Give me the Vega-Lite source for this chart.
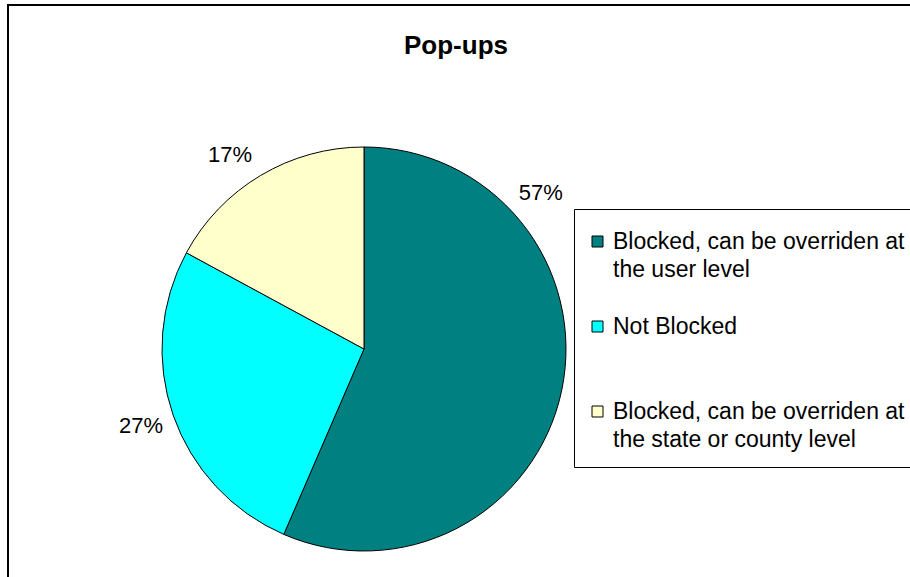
{
  "$schema": "https://vega.github.io/schema/vega-lite/v6.json",
  "width": 904,
  "height": 575,
  "autosize": "none",
  "padding": {"left": 8, "top": 5, "right": 0, "bottom": 0},
  "background": "white",
  "view": {"stroke": "black", "strokeWidth": 2, "fill": "white"},
  "config": {
    "view": {"stroke": "black", "strokeWidth": 2},
    "font": "Liberation Sans"
  },
  "title": {
    "text": "Pop-ups",
    "font": "Liberation Sans",
    "fontSize": 26,
    "fontWeight": "bold",
    "color": "black",
    "anchor": "middle",
    "dx": -4,
    "offset": -54
  },
  "data": {
    "values": [
      {"category": "Blocked, can be overriden at the user level", "value": 56.5, "order": 1, "label": "57%"},
      {"category": "Not Blocked", "value": 26.4, "order": 2, "label": "27%"},
      {"category": "Blocked, can be overriden at the state or county level", "value": 17.1, "order": 3, "label": "17%"}
    ]
  },
  "encoding": {
    "theta": {"field": "value", "type": "quantitative", "stack": true},
    "order": {"field": "order", "type": "quantitative"}
  },
  "layer": [
    {
      "mark": {"type": "arc", "outerRadius": 202, "x": 356, "y": 344, "stroke": "black", "strokeWidth": 1},
      "encoding": {
        "color": {
          "field": "category",
          "type": "nominal",
          "scale": {
            "domain": [
              "Blocked, can be overriden at the user level",
              "Not Blocked",
              "Blocked, can be overriden at the state or county level"
            ],
            "range": ["#008080", "#00FFFF", "#FFFFCC"]
          },
          "legend": {
            "title": " ",
            "titleFontSize": 1,
            "titlePadding": 5,
            "orient": "none",
            "legendX": 566,
            "legendY": 204,
            "strokeColor": "black",
            "fillColor": "white",
            "padding": 15,
            "symbolOffset": -3,
            "gridAlign": "all",
            "symbolType": "square",
            "symbolSize": 121,
            "symbolStrokeColor": "black",
            "symbolStrokeWidth": 1,
            "labelFont": "Liberation Sans",
            "labelFontSize": 23,
            "labelColor": "black",
            "labelLimit": 0,
            "labelOffset": 4,
            "rowPadding": 33,
            "labelExpr": "indexof(datum.label, ' at ') > 0 ? [substring(datum.label, 0, indexof(datum.label, ' at ') + 3), substring(datum.label, indexof(datum.label, ' at ') + 4)] : datum.label",
            "encode": {"labels": {"update": {"lineHeight": {"value": 28.5}}}}
          }
        }
      }
    },
    {
      "mark": {"type": "text", "radius": 236, "thetaOffset": -0.929, "x": 356, "y": 344, "font": "Liberation Sans", "fontSize": 22, "color": "black"},
      "encoding": {"text": {"condition": {"test": "datum.order == 1", "field": "label"}, "value": ""}}
    },
    {
      "mark": {"type": "text", "radius": 236, "x": 356, "y": 344, "font": "Liberation Sans", "fontSize": 22, "color": "black"},
      "encoding": {"text": {"condition": {"test": "datum.order == 2", "field": "label"}, "value": ""}}
    },
    {
      "mark": {"type": "text", "radius": 236, "thetaOffset": -0.066, "x": 356, "y": 344, "font": "Liberation Sans", "fontSize": 22, "color": "black"},
      "encoding": {"text": {"condition": {"test": "datum.order == 3", "field": "label"}, "value": ""}}
    }
  ]
}
